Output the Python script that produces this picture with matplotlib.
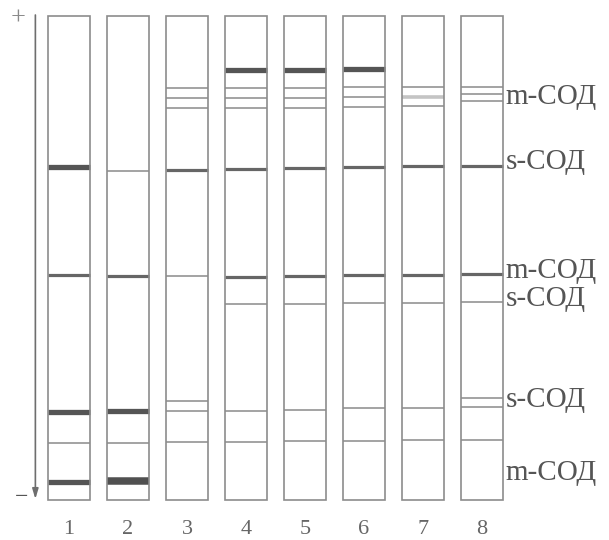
import matplotlib
matplotlib.use('Agg')
import matplotlib.pyplot as plt
from matplotlib.patches import Rectangle

# ---------------- data ----------------
lanes = [1, 2, 3, 4, 5, 6, 7, 8]
lane_labels = ['1', '2', '3', '4', '5', '6', '7', '8']
gel_length = 484  # migration distance units from start (+) to end (-)

# band positions (distance from start) and strength per lane
# strength: t = thin, m = medium, k = thick, x = extra thick, s = diffuse smudge
lane1_pos = [151, 259, 396, 427, 466]
lane1_str = ['k', 'm', 'k', 't', 'k']
lane2_pos = [155, 260, 395, 427, 465]
lane2_str = ['t', 'm', 'k', 't', 'x']
lane3_pos = [72, 82, 92, 154, 260, 385, 395, 426]
lane3_str = ['t', 't', 't', 'm', 't', 't', 't', 't']
lane4_pos = [54, 72, 82, 92, 153, 261, 288, 395, 426]
lane4_str = ['k', 't', 't', 't', 'm', 'm', 't', 't', 't']
lane5_pos = [54, 72, 82, 92, 152, 260, 288, 394, 425]
lane5_str = ['k', 't', 't', 't', 'm', 'm', 't', 't', 't']
lane6_pos = [53, 71, 81, 91, 151, 259, 287, 392, 425]
lane6_str = ['k', 't', 't', 't', 'm', 'm', 't', 't', 't']
lane7_pos = [71, 81, 90, 150, 259, 287, 392, 424]
lane7_str = ['t', 's', 't', 'm', 'm', 't', 't', 't']
lane8_pos = [71, 78, 85, 150, 258, 286, 382, 391, 424]
lane8_str = ['t', 't', 't', 'm', 'm', 't', 't', 't', 't']

zone_labels = ['m-СОД', 's-СОД', 'm-СОД', 's-СОД', 's-СОД', 'm-СОД']
zone_pos = [81, 146, 255, 283, 384, 457]

# ---------------- style ----------------
band_style = {
    't': dict(lw=1.1, color='#8a8a8a'),
    'm': dict(lw=2.3, color='#666666'),
    'k': dict(lw=3.8, color='#555555'),
    'x': dict(lw=5.4, color='#505050'),
    's': dict(lw=2.6, color='#c4c4c4'),
}
lane_w = 0.71
outline = '#8c8c8c'
txt = '#555555'
serif = ['Liberation Serif', 'DejaVu Serif']

fig = plt.figure(figsize=(6.09, 5.40), dpi=100)
ax = fig.add_axes([0, 0, 1, 1])
ax.set_xlim(-0.1695, 10.152)
ax.set_ylim(524, -16)
ax.axis('off')

all_pos = [lane1_pos, lane2_pos, lane3_pos, lane4_pos,
           lane5_pos, lane6_pos, lane7_pos, lane8_pos]
all_str = [lane1_str, lane2_str, lane3_str, lane4_str,
           lane5_str, lane6_str, lane7_str, lane8_str]

for lane, lab, pos, strs in zip(lanes, lane_labels, all_pos, all_str):
    ax.add_patch(Rectangle((lane - lane_w / 2, 0), lane_w, gel_length,
                           fill=False, ec=outline, lw=1.2, zorder=3))
    for p, s in zip(pos, strs):
        st = band_style[s]
        ax.plot([lane - lane_w / 2, lane + lane_w / 2], [p, p],
                color=st['color'], lw=st['lw'], solid_capstyle='butt', zorder=2)
    ax.text(lane, gel_length + 29, lab, ha='center', va='center',
            fontsize=16, color='#666666', family=serif)

# zone labels to the right of last lane
x_lab = lanes[-1] + lane_w / 2 + 0.04
for t, p in zip(zone_labels, zone_pos):
    ax.text(x_lab, p, t, ha='left', va='center', fontsize=21,
            color=txt, family=serif)

# electrophoresis direction arrow
x_arr = 0.43
ax.annotate('', xy=(x_arr, gel_length - 1), xytext=(x_arr, -1),
            arrowprops=dict(arrowstyle='-|>,head_width=0.18,head_length=0.6',
                            color='#6e6e6e', lw=1.2, shrinkA=0, shrinkB=0))
ax.text(0.14, 3, '+', ha='center', va='center', fontsize=19,
        color='#8a8a8a', family=serif)
ax.text(0.19, gel_length - 3, '−', ha='center', va='center', fontsize=17,
        color='#555555', family=serif)

fig.savefig('out.png', dpi=100, facecolor='white')
